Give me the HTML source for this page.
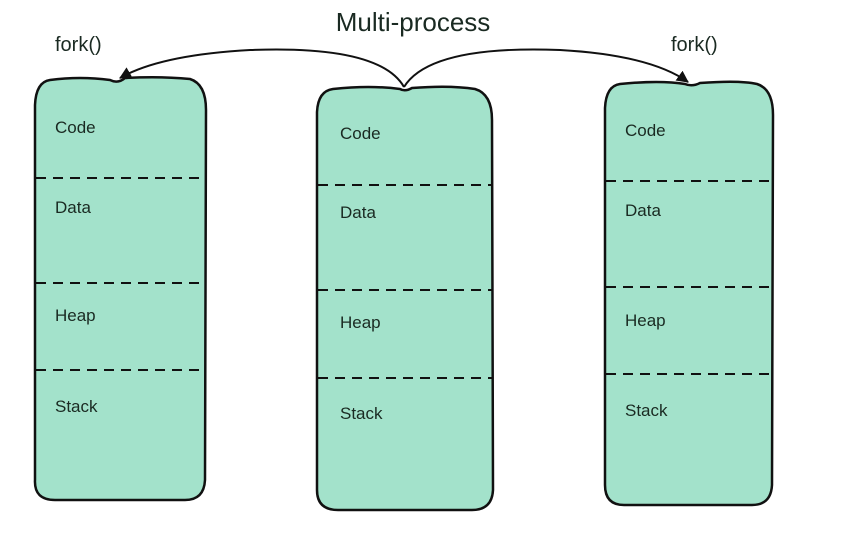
<!DOCTYPE html>
<html><head><meta charset="utf-8"><style>
html,body{margin:0;padding:0;background:#fff;}
svg{display:block;}
text{font-family:"Liberation Sans","DejaVu Sans",sans-serif;fill:#1a2a22;}
</style></head><body>
<svg width="847" height="537" viewBox="0 0 847 537" xmlns="http://www.w3.org/2000/svg">
<defs>
<marker id="ah" markerWidth="14" markerHeight="14" refX="11" refY="6" orient="auto" markerUnits="userSpaceOnUse">
<path d="M0,0 L12,6 L0,12 z" fill="#111"/>
</marker>
</defs>
<!-- left box -->
<path d="M50,80 Q80,76 110,80 Q118,84 125,78 Q160,76 190,79 Q206,84 206,110 L205,480 Q204,500 185,500 L55,500 Q34,500 35,480 L35,105 Q36,82 50,80 Z" fill="#a3e2cb" stroke="#111" stroke-width="2.5"/>
<g stroke="#111" stroke-width="2" stroke-dasharray="10,7">
<line x1="36" y1="178" x2="205" y2="178"/><line x1="36" y1="283" x2="205" y2="283"/><line x1="36" y1="370" x2="205" y2="370"/>
</g>
<text x="55" y="133" font-size="17">Code</text>
<text x="55" y="213" font-size="17">Data</text>
<text x="55" y="321" font-size="17">Heap</text>
<text x="55" y="412" font-size="17">Stack</text>
<!-- middle box -->
<path d="M333,89 Q370,85 400,89 Q405,92 412,88 Q450,85 475,89 Q492,94 492,120 L493,490 Q492,510 472,510 L338,510 Q317,510 317,490 L317,112 Q318,91 333,89 Z" fill="#a3e2cb" stroke="#111" stroke-width="2.5"/>
<g stroke="#111" stroke-width="2" stroke-dasharray="10,7">
<line x1="318" y1="185" x2="492" y2="185"/><line x1="318" y1="290" x2="492" y2="290"/><line x1="318" y1="378" x2="492" y2="378"/>
</g>
<text x="340" y="139" font-size="17">Code</text>
<text x="340" y="218" font-size="17">Data</text>
<text x="340" y="328" font-size="17">Heap</text>
<text x="340" y="419" font-size="17">Stack</text>
<!-- right box -->
<path d="M620,84 Q660,80 685,84 Q692,87 700,83 Q740,80 757,84 Q773,89 773,115 L772,485 Q771,505 752,505 L624,505 Q605,505 605,485 L605,108 Q606,86 620,84 Z" fill="#a3e2cb" stroke="#111" stroke-width="2.5"/>
<g stroke="#111" stroke-width="2" stroke-dasharray="10,7">
<line x1="606" y1="181" x2="772" y2="181"/><line x1="606" y1="287" x2="772" y2="287"/><line x1="606" y1="374" x2="772" y2="374"/>
</g>
<text x="625" y="136" font-size="17">Code</text>
<text x="625" y="216" font-size="17">Data</text>
<text x="625" y="326" font-size="17">Heap</text>
<text x="625" y="416" font-size="17">Stack</text>
<!-- arrows -->
<path d="M404,87 Q380,45 250,50 Q160,55 120,78" fill="none" stroke="#111" stroke-width="2" marker-end="url(#ah)"/>
<path d="M404,87 Q430,45 560,50 Q650,55 688,82" fill="none" stroke="#111" stroke-width="2" marker-end="url(#ah)"/>
<text x="413" y="31" font-size="26" text-anchor="middle">Multi-process</text>
<text x="55" y="51" font-size="20">fork()</text>
<text x="671" y="51" font-size="20">fork()</text>
</svg>
</body></html>
